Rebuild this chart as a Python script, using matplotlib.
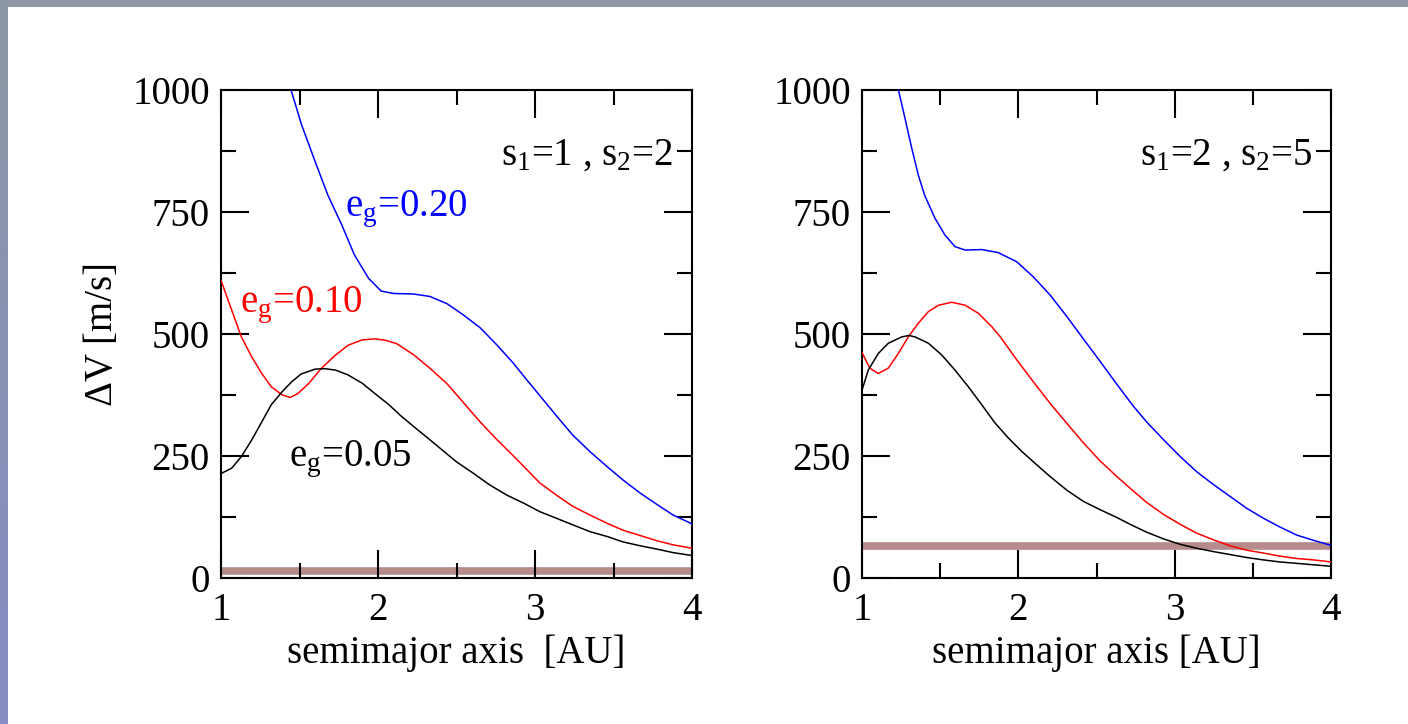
import matplotlib

matplotlib.use("Agg")
import matplotlib.pyplot as plt
import numpy as np
from matplotlib.ticker import MultipleLocator

# --- data --------------------------------------------------------------
# left panel: s1=1, s2=2
a_blue_l = [1.446, 1.514, 1.60, 1.68, 1.77, 1.85, 1.94, 2.02, 2.10, 2.225, 2.33,
            2.44, 2.54, 2.65, 2.756, 2.86, 2.93, 3.03, 3.14, 3.24, 3.35, 3.46,
            3.56, 3.67, 3.78, 3.88, 4.0]
v_blue_l = [1000, 928, 853, 785, 723, 662, 614, 588, 583, 582, 577,
            562, 540, 513, 478, 441, 413, 374, 331, 293, 259, 228,
            201, 174, 150, 129, 111]
a_red_l = [1.0, 1.068, 1.13, 1.196, 1.26, 1.32, 1.39, 1.44, 1.49, 1.56, 1.64,
           1.73, 1.81, 1.90, 1.98, 2.05, 2.12, 2.225, 2.33, 2.44, 2.54, 2.65,
           2.756, 2.86, 2.93, 3.03, 3.14, 3.24, 3.35, 3.46, 3.56, 3.67, 3.78,
           3.88, 4.0]
v_red_l = [610, 549, 494, 453, 419, 392, 375, 370, 378, 399, 430,
           457, 477, 488, 490, 487, 480, 458, 430, 398, 361, 320,
           284, 251, 228, 195, 169, 147, 129, 112, 98, 87, 76,
           68, 61]
a_blk_l = [1.0, 1.068, 1.13, 1.196, 1.26, 1.32, 1.39, 1.45, 1.51, 1.60, 1.66,
           1.73, 1.81, 1.90, 1.98, 2.07, 2.15, 2.24, 2.32, 2.395, 2.50, 2.61,
           2.71, 2.82, 2.93, 3.03, 3.14, 3.24, 3.35, 3.46, 3.56, 3.67, 3.78,
           3.88, 4.0]
v_blk_l = [214, 225, 249, 283, 320, 355, 382, 402, 418, 428, 429,
           426, 416, 399, 378, 355, 331, 307, 286, 266, 238, 214,
           191, 170, 153, 136, 122, 109, 95, 85, 74, 66, 59,
           52, 46]
limit_l = 15

# right panel: s1=2, s2=5
a_blue_r = [1.233, 1.275, 1.318, 1.36, 1.40, 1.467, 1.53, 1.595, 1.66, 1.766,
            1.87, 1.99, 2.096, 2.203, 2.31, 2.416, 2.523, 2.63, 2.736, 2.82,
            2.93, 3.035, 3.14, 3.25, 3.355, 3.46, 3.57, 3.67, 3.78, 3.89, 4.0]
v_blue_r = [1000, 942, 881, 826, 785, 737, 703, 679, 672, 673,
            667, 648, 617, 580, 536, 490, 444, 397, 352, 320,
            283, 249, 218, 191, 167, 143, 122, 105, 88, 77, 67]
a_red_r = [1.0, 1.05, 1.104, 1.168, 1.232, 1.296, 1.36, 1.425, 1.49, 1.574,
           1.66, 1.746, 1.83, 1.883, 1.99, 2.096, 2.203, 2.31, 2.416, 2.523,
           2.63, 2.715, 2.82, 2.93, 3.035, 3.14, 3.25, 3.355, 3.46, 3.57,
           3.67, 3.78, 3.89, 4.0]
v_red_r = [462, 430, 419, 430, 460, 494, 522, 546, 559, 565,
           559, 542, 515, 495, 447, 402, 358, 317, 277, 240,
           208, 184, 155, 130, 110, 92, 78, 66, 57, 51,
           45, 40, 37, 33]
a_blk_r = [1.0, 1.04, 1.104, 1.168, 1.254, 1.30, 1.34, 1.425, 1.51, 1.595,
           1.68, 1.766, 1.85, 1.936, 2.02, 2.107, 2.203, 2.31, 2.416, 2.523,
           2.63, 2.715, 2.82, 2.93, 3.035, 3.14, 3.25, 3.355, 3.46, 3.57,
           3.67, 3.78, 3.89, 4.0]
v_blk_r = [385, 426, 460, 481, 494, 497, 494, 481, 457, 426,
           392, 355, 318, 287, 260, 235, 208, 180, 157, 140,
           124, 110, 94, 80, 69, 61, 54, 48, 42, 37,
           33, 30, 27, 24]
limit_r = 65

titles = ["s$_1$=1 , s$_2$=2", "s$_1$=2 , s$_2$=5"]
xlabels = ["semimajor axis  [AU]", "semimajor axis [AU]"]

plt.rcParams["font.family"] = ["Liberation Serif", "DejaVu Serif"]
plt.rcParams["mathtext.fontset"] = "custom"
plt.rcParams["mathtext.rm"] = "Liberation Serif"
plt.rcParams["mathtext.it"] = "Liberation Serif"

FS = 28
BAND = "#b78b8b"

fig = plt.figure(figsize=(14.08, 7.24), dpi=100)
fig.patch.set_facecolor("white")

# slide frame: grey strip on top, grey->violet strip on the left
top = fig.add_axes([0, 1 - 7 / 724, 1, 7 / 724])
top.set_axis_off()
top.add_patch(plt.Rectangle((0, 0), 1, 1, color="#8e99a5", transform=top.transAxes))
left = fig.add_axes([0, 0, 8 / 1408, 1])
left.set_axis_off()
grad = np.linspace(0, 1, 256)[:, None]
c_top = np.array([0x8e, 0x99, 0xa5]) / 255
c_bot = np.array([0x88, 0x8c, 0xc4]) / 255
img = c_top[None, None, :] * (1 - grad[:, :, None]) + c_bot[None, None, :] * grad[:, :, None]
left.imshow(img, aspect="auto", extent=[0, 1, 0, 1])

ax1 = fig.add_axes([221 / 1408, 1 - 578 / 724, 471 / 1408, 488 / 724])
ax2 = fig.add_axes([862 / 1408, 1 - 578 / 724, 469 / 1408, 488 / 724])

panels = [
    (ax1, (a_blue_l, v_blue_l), (a_red_l, v_red_l), (a_blk_l, v_blk_l), limit_l),
    (ax2, (a_blue_r, v_blue_r), (a_red_r, v_red_r), (a_blk_r, v_blk_r), limit_r),
]

for i, (ax, blue, red, blk, lim) in enumerate(panels):
    ax.axhline(lim, color=BAND, lw=5.5, zorder=1)
    for (xs, ys), col in [(blue, "blue"), (red, "red"), (blk, "black")]:
        ax.plot(xs, ys, color=col, lw=1.1, zorder=3, solid_joinstyle="round")

    ax.set_xlim(1, 4)
    ax.set_ylim(0, 1000)
    ax.xaxis.set_major_locator(MultipleLocator(1))
    ax.xaxis.set_minor_locator(MultipleLocator(0.5))
    ax.yaxis.set_major_locator(MultipleLocator(250))
    ax.yaxis.set_minor_locator(MultipleLocator(125))
    ax.tick_params(which="both", direction="in", top=True, right=True, width=1.5,
                   labelsize=FS, colors="black")
    ax.tick_params(which="major", length=20)
    ax.tick_params(which="minor", length=11)
    ax.tick_params(axis="x", pad=10)
    ax.tick_params(axis="y", pad=8)
    for sp in ax.spines.values():
        sp.set_linewidth(1.5)

    ax.set_xlabel(xlabels[i], fontsize=FS, labelpad=4)
    ax.text(3.88, 848, titles[i], fontsize=FS, ha="right", va="baseline")

ax1.set_ylabel("ΔV [m/s]", fontsize=FS, labelpad=8)
ax1.text(1.79, 742, r"e$_{\rm g}$=0.20", color="blue", fontsize=FS, va="baseline")
ax1.text(1.12, 544, r"e$_{\rm g}$=0.10", color="red", fontsize=FS, va="baseline")
ax1.text(1.43, 229, r"e$_{\rm g}$=0.05", color="black", fontsize=FS, va="baseline")

fig.savefig("out.png", dpi=100)
